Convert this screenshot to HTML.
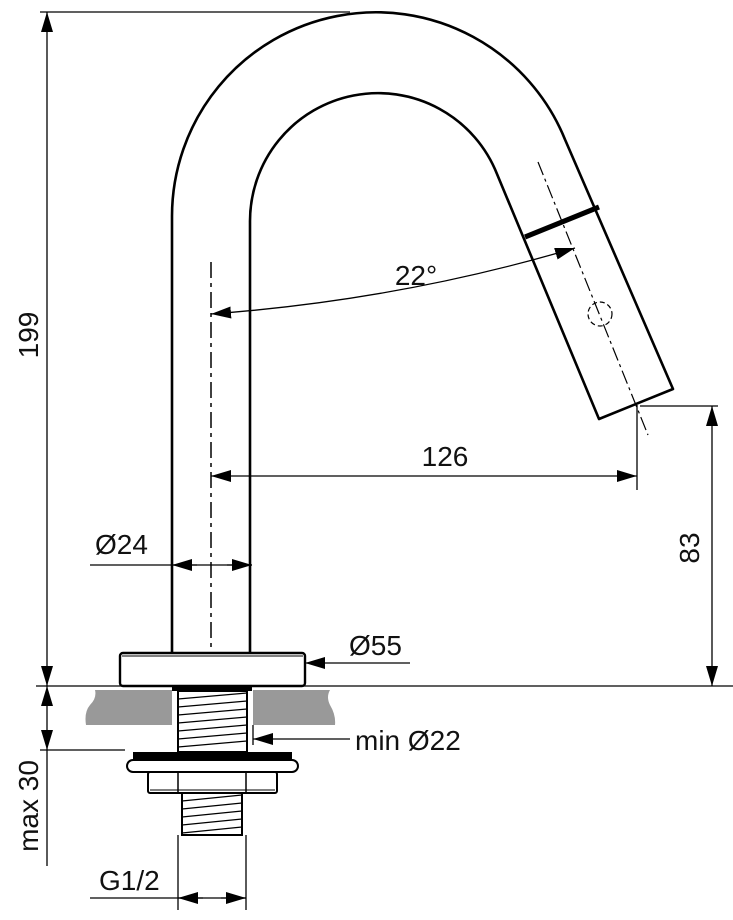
<!DOCTYPE html>
<html><head><meta charset="utf-8"><style>
html,body{margin:0;padding:0;background:#fff;width:733px;height:920px;overflow:hidden}
svg{display:block}
text{font-family:"Liberation Sans",Arial,sans-serif;fill:#111}
</style></head><body>
<svg width="733" height="920" viewBox="0 0 733 920" xmlns="http://www.w3.org/2000/svg">
<defs>
<marker id="a" viewBox="0 0 20 12" refX="20" refY="6" markerWidth="20" markerHeight="12" markerUnits="userSpaceOnUse" orient="auto-start-reverse"><path d="M0,0 L20,6 L0,12 z" fill="#000"/></marker>
</defs>
<g fill="none" stroke="#000">
<path d="M172,653 L172,216 A204,204 0 0 1 565,139.5 L673,389 L599,419 L497,174 A128,128 0 0 0 250,222 L250,653" stroke-width="2.6" stroke-linejoin="round"/>
<line x1="525" y1="237" x2="599" y2="207" stroke-width="5"/>
<line x1="538" y1="162" x2="648" y2="435" stroke-width="1.2" stroke-dasharray="14,4,3,4"/>
<circle cx="600" cy="314" r="12" stroke-width="1.2" stroke-dasharray="5,3"/>
<line x1="211" y1="262" x2="211" y2="680" stroke-width="1.5" stroke-dasharray="16,5,4,5"/>

<line x1="40" y1="12" x2="350" y2="12" stroke-width="1.3"/>
<line x1="47" y1="12" x2="47" y2="686" stroke-width="1.3" marker-start="url(#a)" marker-end="url(#a)"/>
<line x1="36" y1="686" x2="733" y2="686" stroke-width="1.3"/>
<path d="M211,314 Q400,300 575,248" stroke-width="1.3" marker-start="url(#a)" marker-end="url(#a)"/>
<line x1="637" y1="405" x2="637" y2="490" stroke-width="1.3"/>
<line x1="211" y1="476" x2="637" y2="476" stroke-width="1.3" marker-start="url(#a)" marker-end="url(#a)"/>
<line x1="640" y1="406" x2="718" y2="406" stroke-width="1.3"/>
<line x1="712" y1="406" x2="712" y2="686" stroke-width="1.3" marker-start="url(#a)" marker-end="url(#a)"/>
<line x1="90" y1="565" x2="252" y2="565" stroke-width="1.3"/>
<line x1="197" y1="565" x2="172" y2="565" stroke-width="1.3" marker-end="url(#a)"/>
<line x1="227" y1="565" x2="252" y2="565" stroke-width="1.3" marker-end="url(#a)"/>
<line x1="410" y1="663" x2="305" y2="663" stroke-width="1.3" marker-end="url(#a)"/>
<line x1="350" y1="739" x2="253" y2="739" stroke-width="1.3" marker-end="url(#a)"/>
<line x1="253" y1="725" x2="253" y2="745" stroke-width="1.3"/>
<line x1="40" y1="750" x2="125" y2="750" stroke-width="1.3"/>
<line x1="47" y1="686" x2="47" y2="750" stroke-width="1.3" marker-start="url(#a)" marker-end="url(#a)"/>
<line x1="47" y1="750" x2="47" y2="866" stroke-width="1.3"/>
<line x1="178" y1="835" x2="178" y2="910" stroke-width="1.3"/>
<line x1="246" y1="835" x2="246" y2="910" stroke-width="1.3"/>
<line x1="90" y1="898" x2="246" y2="898" stroke-width="1.3"/>
<line x1="203" y1="898" x2="178" y2="898" stroke-width="1.3" marker-end="url(#a)"/>
<line x1="221" y1="898" x2="246" y2="898" stroke-width="1.3" marker-end="url(#a)"/>
</g>

<path d="M95,690 L172,690 L172,725 L86,725 Q84,712 90,705 Q97,698 95,690 z" fill="#999"/>
<path d="M253,690 L330,690 Q326,697 330,705 Q336,715 335,725 L253,725 z" fill="#999"/>
<rect x="120" y="653" width="185" height="33" rx="3" fill="#fff" stroke="#000" stroke-width="2.4"/>
<line x1="122" y1="656" x2="303" y2="656" stroke="#000" stroke-width="1"/>
<rect x="172" y="686" width="80" height="5" fill="#000"/>
<rect x="178" y="691" width="69" height="61" fill="#fff" stroke="#000" stroke-width="2"/>
<g stroke="#000" stroke-width="1.2">
<line x1="178" y1="699" x2="247" y2="693"/><line x1="178" y1="707" x2="247" y2="701"/><line x1="178" y1="715" x2="247" y2="709"/><line x1="178" y1="723" x2="247" y2="717"/><line x1="178" y1="731" x2="247" y2="725"/><line x1="178" y1="739" x2="247" y2="733"/><line x1="178" y1="747" x2="247" y2="741"/>
</g>
<rect x="133" y="752" width="159" height="8" fill="#000"/>
<rect x="127" y="760" width="171" height="12" rx="6" fill="#fff" stroke="#000" stroke-width="2"/>
<rect x="148" y="772" width="129" height="21" rx="2" fill="#fff" stroke="#000" stroke-width="2"/>
<line x1="178" y1="772" x2="178" y2="793" stroke="#000" stroke-width="1.5"/>
<line x1="246" y1="772" x2="246" y2="793" stroke="#000" stroke-width="1.5"/>
<line x1="150" y1="790" x2="275" y2="790" stroke="#000" stroke-width="1"/>
<rect x="182" y="793" width="60" height="42" fill="#fff" stroke="#000" stroke-width="2"/>
<g stroke="#000" stroke-width="1.2">
<line x1="182" y1="801" x2="242" y2="795"/><line x1="182" y1="809" x2="242" y2="803"/><line x1="182" y1="817" x2="242" y2="811"/><line x1="182" y1="825" x2="242" y2="819"/><line x1="182" y1="833" x2="242" y2="827"/>
</g>

<text x="0" y="0" font-size="28" transform="translate(38,335) rotate(-90)" text-anchor="middle">199</text>
<text x="416" y="285" font-size="28" text-anchor="middle">22°</text>
<text x="445" y="466" font-size="28" text-anchor="middle">126</text>
<text x="0" y="0" font-size="28" transform="translate(699,548) rotate(-90)" text-anchor="middle">83</text>
<text x="95" y="554" font-size="28">Ø24</text>
<text x="349" y="655" font-size="28">Ø55</text>
<text x="355" y="750" font-size="28">min Ø22</text>
<text x="0" y="0" font-size="28" transform="translate(38,806) rotate(-90)" text-anchor="middle">max 30</text>
<text x="99" y="890" font-size="28">G1/2</text>
</svg>
</body></html>
